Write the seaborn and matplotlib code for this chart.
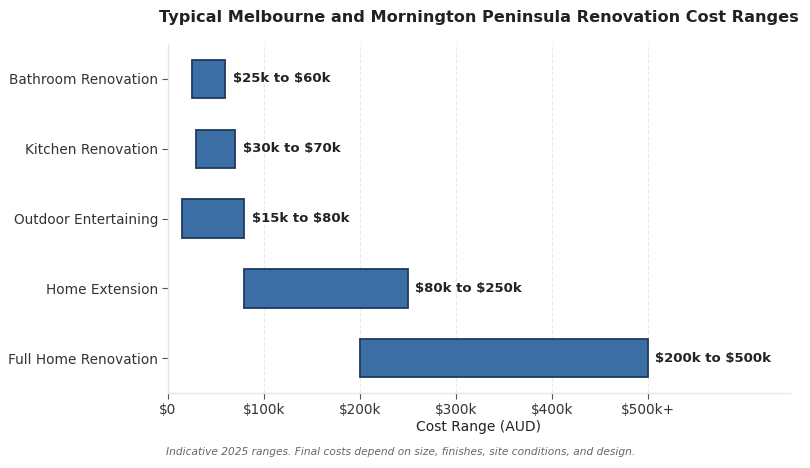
import pandas as pd
import matplotlib.pyplot as plt
import seaborn as sns

# Estilo base
sns.set_theme(style="whitegrid")
plt.rcParams['font.family'] = ['DejaVu Sans']
plt.rcParams['text.parse_math'] = False

# Dados (em milhares de AUD)
projetos = ['Bathroom Renovation', 'Kitchen Renovation', 'Outdoor Entertaining',
            'Home Extension', 'Full Home Renovation']
custo_min = [25, 30, 15, 80, 200]
custo_max = [60, 70, 80, 250, 500]
rotulos = ['$25k to $60k', '$30k to $70k', '$15k to $80k',
           '$80k to $250k', '$200k to $500k']
ticks_x = [0, 100, 200, 300, 400, 500]
ticks_lbl = ['$0', '$100k', '$200k', '$300k', '$400k', '$500k+']

df = pd.DataFrame({'Projeto': projetos, 'Min': custo_min, 'Max': custo_max})
df['Faixa'] = df['Max'] - df['Min']

fig, ax = plt.subplots(figsize=(8.1, 4.68), dpi=100)
fig.subplots_adjust(left=0.207, right=0.975, top=0.906, bottom=0.160)

sns.barplot(data=df, x='Faixa', y='Projeto', orient='y', ax=ax,
            color='#3b6ea5', saturation=1, width=0.55,
            edgecolor='#1f3a5f', linewidth=1.3)

# desloca cada barra para começar no valor mínimo
for barra, inicio in zip(ax.patches, df['Min']):
    barra.set_x(inicio)

# rótulos de valor
for i, (fim, txt) in enumerate(zip(df['Max'], rotulos)):
    ax.text(fim + 8, i, txt, va='center', ha='left', fontsize=9.5,
            fontweight='bold', color='#222222')

ax.set_xlim(0, 648)
ax.set_xticks(ticks_x)
ax.set_xticklabels(ticks_lbl)
ax.set_xlabel('Cost Range (AUD)', fontsize=10, color='#222222', labelpad=2)
ax.set_ylabel('')
ax.set_title('Typical Melbourne and Mornington Peninsula Renovation Cost Ranges',
             fontsize=11.6, fontweight='bold', color='#222222', pad=16)

ax.grid(axis='y', visible=False)
ax.grid(axis='x', color='#e8e8e8', linestyle='--', linewidth=0.8)
for lado in ['top', 'right']:
    ax.spines[lado].set_visible(False)
for lado in ['left', 'bottom']:
    ax.spines[lado].set_color('#e6e6e6')
    ax.spines[lado].set_linewidth(1.0)
ax.tick_params(axis='both', bottom=True, left=True, length=4, width=0.8,
               color='#555555', labelsize=9.8, labelcolor='#333333', pad=3)

fig.text(0.494, 0.034,
         'Indicative 2025 ranges. Final costs depend on size, finishes, site conditions, and design.',
         ha='center', va='center', fontsize=7.7, style='italic', color='#666666')

plt.savefig('out.png', dpi=100)
